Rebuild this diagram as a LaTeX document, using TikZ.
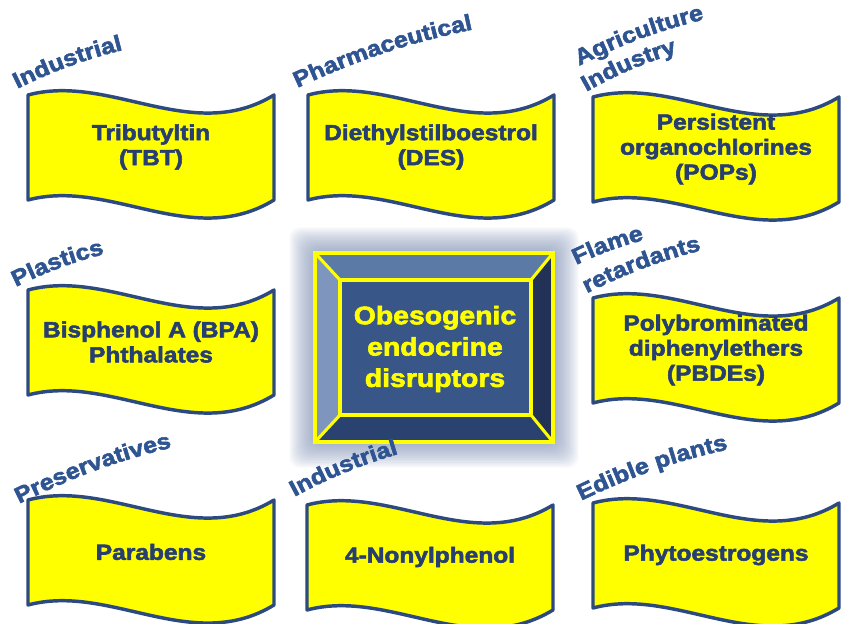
\documentclass[tikz,border=0pt]{standalone}
\usepackage{fontspec}
\setmainfont{Liberation Sans}[FakeStretch=1.12,BoldFeatures={FakeBold=2.5}]
\usepackage{tikz}
\usetikzlibrary{decorations.text}

\definecolor{bannerblue}{RGB}{44,74,128}
\definecolor{inkblue}{RGB}{38,62,112}
\definecolor{tagblue}{RGB}{46,84,145}
\definecolor{flagyellow}{RGB}{255,255,0}
\definecolor{facetop}{RGB}{92,122,166}
\definecolor{faceleft}{RGB}{126,150,190}
\definecolor{faceright}{RGB}{33,50,86}
\definecolor{facebottom}{RGB}{42,66,112}
\definecolor{facemid}{RGB}{56,86,136}
\definecolor{glowc}{RGB}{110,130,170}

\newcommand{\flagfont}{\fontsize{16.4}{18.8}\selectfont\bfseries}
\newcommand{\tagfont}{\fontsize{16.8}{18}\selectfont\bfseries\color{tagblue}}

% wavy banner: name, top left corner, text
\newcommand{\waveflag}[3]{%
  \begin{scope}[shift={(#2)}]
    \draw[flag] (0,0) .. controls (82,-22) and (164,50) .. (246,0)
      -- (246,105) .. controls (164,155) and (82,83) .. (0,105) -- cycle;
    \node[flagtext] (#1) at (123,52) {#3};
  \end{scope}}

% arched category label: start, end, text
\newcommand{\categ}[3]{%
  \path[decorate,decoration={text along path,text align=center,
    text={|\tagfont|#3}}] #1 to[bend left=7] #2;}

\begin{document}
\begin{tikzpicture}[x=0.75pt,y=-0.75pt]
	\tikzstyle{flag}=[draw=bannerblue,line width=2.6pt,fill=flagyellow,line join=round]
	\tikzstyle{flagtext}=[align=center,text=inkblue,font=\flagfont]
	\tikzstyle{rim}=[draw=flagyellow,line width=2.3pt]
	\useasboundingbox (0,0) rectangle (843,624);

	% glow round the centre box
	\foreach \g in {1,...,16}
		\fill[glowc,opacity=0.055,rounded corners=8pt] ({315-1.6*\g},{253-1.6*\g}) rectangle ({553+1.6*\g},{442+1.6*\g});

	% bevelled centre box
	\coordinate (otl) at (315,253);
	\coordinate (otr) at (553,253);
	\coordinate (obr) at (553,442);
	\coordinate (obl) at (315,442);
	\coordinate (itl) at (340,280);
	\coordinate (itr) at (531,280);
	\coordinate (ibr) at (531,415);
	\coordinate (ibl) at (340,415);
	\fill[facemid] (itl) rectangle (ibr);
	\fill[facetop] (otl) -- (otr) -- (itr) -- (itl) -- cycle;
	\fill[faceright] (otr) -- (obr) -- (ibr) -- (itr) -- cycle;
	\fill[facebottom] (obr) -- (obl) -- (ibl) -- (ibr) -- cycle;
	\fill[faceleft] (obl) -- (otl) -- (itl) -- (ibl) -- cycle;
	\draw[rim] (otl) rectangle (obr);
	\draw[rim] (itl) rectangle (ibr);
	\draw[rim] (otl) -- (itl);
	\draw[rim] (otr) -- (itr);
	\draw[rim] (obr) -- (ibr);
	\draw[rim] (obl) -- (ibl);
	\node[text=flagyellow,align=center,font=\fontsize{19}{23.5}\selectfont\bfseries] (core) at (435,349) {Obesogenic\\endocrine\\disruptors};

	% banners
	\waveflag{tbt}{28,95}{Tributyltin\\(TBT)}
	\waveflag{des}{308,95}{Diethylstilboestrol\\(DES)}
	\waveflag{pops}{593,97}{Persistent\\organochlorines\\(POPs)}
	\waveflag{bpa}{28,290}{Bisphenol A (BPA)\\Phthalates}
	\waveflag{pbde}{593,298}{Polybrominated\\diphenylethers\\(PBDEs)}
	\waveflag{parabens}{28,500}{Parabens}
	\waveflag{nonyl}{307,505}{4-Nonylphenol}
	\waveflag{phyto}{593,503}{Phytoestrogens}

	% category labels
	\categ{(-1,98)}{(143,45)}{Industrial}
	\categ{(278,97)}{(494,25)}{Pharmaceutical}
	\categ{(563,74)}{(722,15)}{Agriculture}
	\categ{(572,100)}{(693,48)}{Industry}
	\categ{(-2,296)}{(124,249)}{Plastics}
	\categ{(558,274)}{(664,235)}{Flame}
	\categ{(568,303)}{(722,245)}{retardants}
	\categ{(-1,514)}{(194,442)}{Preservatives}
	\categ{(276,507)}{(419,448)}{Industrial}
	\categ{(564,509)}{(747,445)}{Edible plants}
\end{tikzpicture}
\end{document}
